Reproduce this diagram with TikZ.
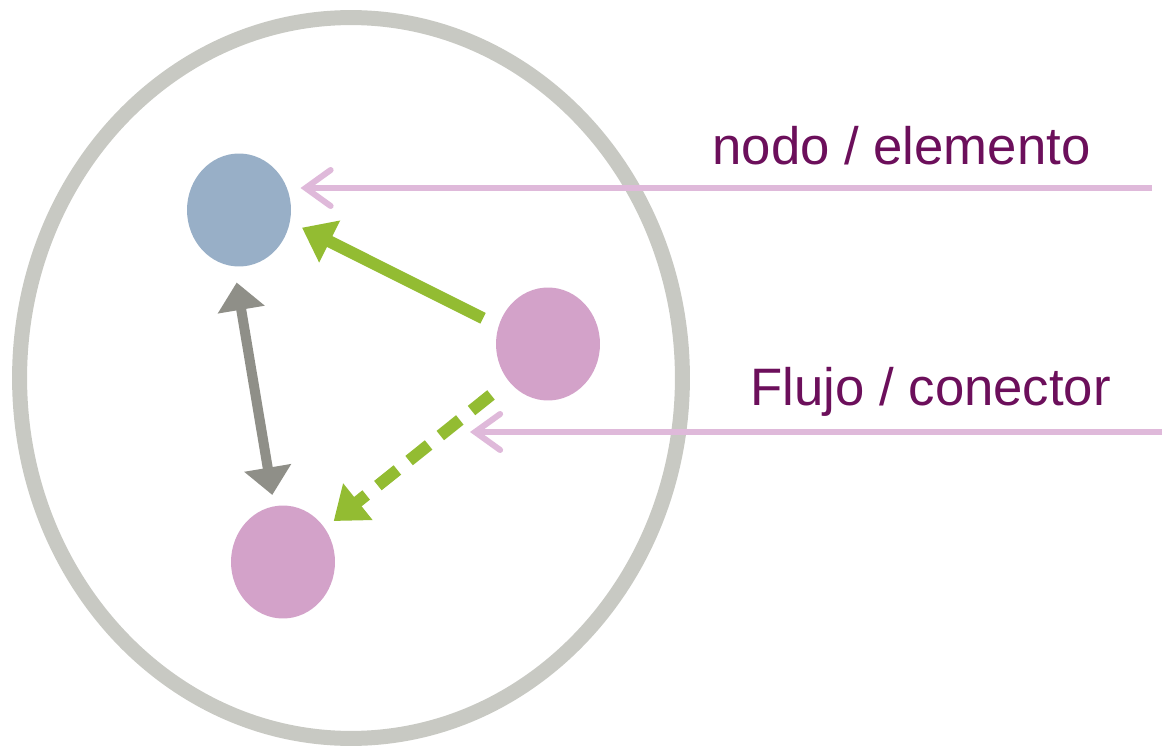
\documentclass[tikz,border=0pt]{standalone}
\usepackage{fontspec}
\setmainfont{Liberation Sans}
\usepackage{tikz}
\usetikzlibrary{positioning,shapes,arrows.meta}
\definecolor{ringgray}{HTML}{C8C9C3}
\definecolor{nodeblue}{HTML}{98AFC7}
\definecolor{nodepink}{HTML}{D3A2C9}
\definecolor{flowgreen}{HTML}{93BC32}
\definecolor{linkgray}{HTML}{8F8F88}
\definecolor{pointpink}{HTML}{DFB9DA}
\definecolor{labelpurple}{HTML}{6C0F5B}

\begin{document}
\begin{tikzpicture}[x=0.02cm, y=-0.02cm, semithick,
    main/.style = {ellipse, inner sep=0pt, minimum width=2.08cm, minimum height=2.26cm},
    flow/.style = {flowgreen, line width=0.24cm, -{Triangle[length=0.62cm,width=0.9cm]}},
    link/.style = {linkgray, line width=0.2cm, {Triangle[length=0.55cm,width=0.92cm]}-{Triangle[length=0.55cm,width=0.92cm]}},
    pointer/.style = {pointpink, line width=0.12cm, -{Straight Barb[length=0.5cm,width=0.72cm,line cap=round]}},
    label/.style = {labelpurple, anchor=base west, inner sep=0pt, font=\fontsize{30}{36}\selectfont}]
    \useasboundingbox (0,0) rectangle (1162,746);

    \node[ellipse, draw=ringgray, line width=0.3cm, inner sep=0pt, minimum width=13.26cm, minimum height=14.42cm] (0) at (351,378) {};
    \node[main, fill=nodeblue] (1) at (239,210) {};
    \node[main, fill=nodepink] (2) at (548,344) {};
    \node[main, fill=nodepink] (3) at (283,562) {};
    \node[label] (4) at (712,165) {nodo / elemento};
    \node[label] (5) at (750,405) {Flujo / conector};

    \draw[flow, shorten <=0.34cm, shorten >=0.26cm] (2.160) -- (1.-13);
    \draw[flow, dash pattern=on 0.5cm off 0.3cm, shorten <=0.44cm, shorten >=0.22cm] (2.223) -- (3.39);
    \draw[link, shorten <=0.32cm, shorten >=0.22cm] (1.265) -- (3.99);

    \coordinate (p1) at (1152,188);
    \coordinate (p2) at (1162,432);
    \coordinate (t2) at (470,432);
    \draw[pointer, shorten >=0.18cm] (p1) -- (p1 -| 1.east);
    \draw[pointer] (p2) -- (t2);
\end{tikzpicture}
\end{document}
